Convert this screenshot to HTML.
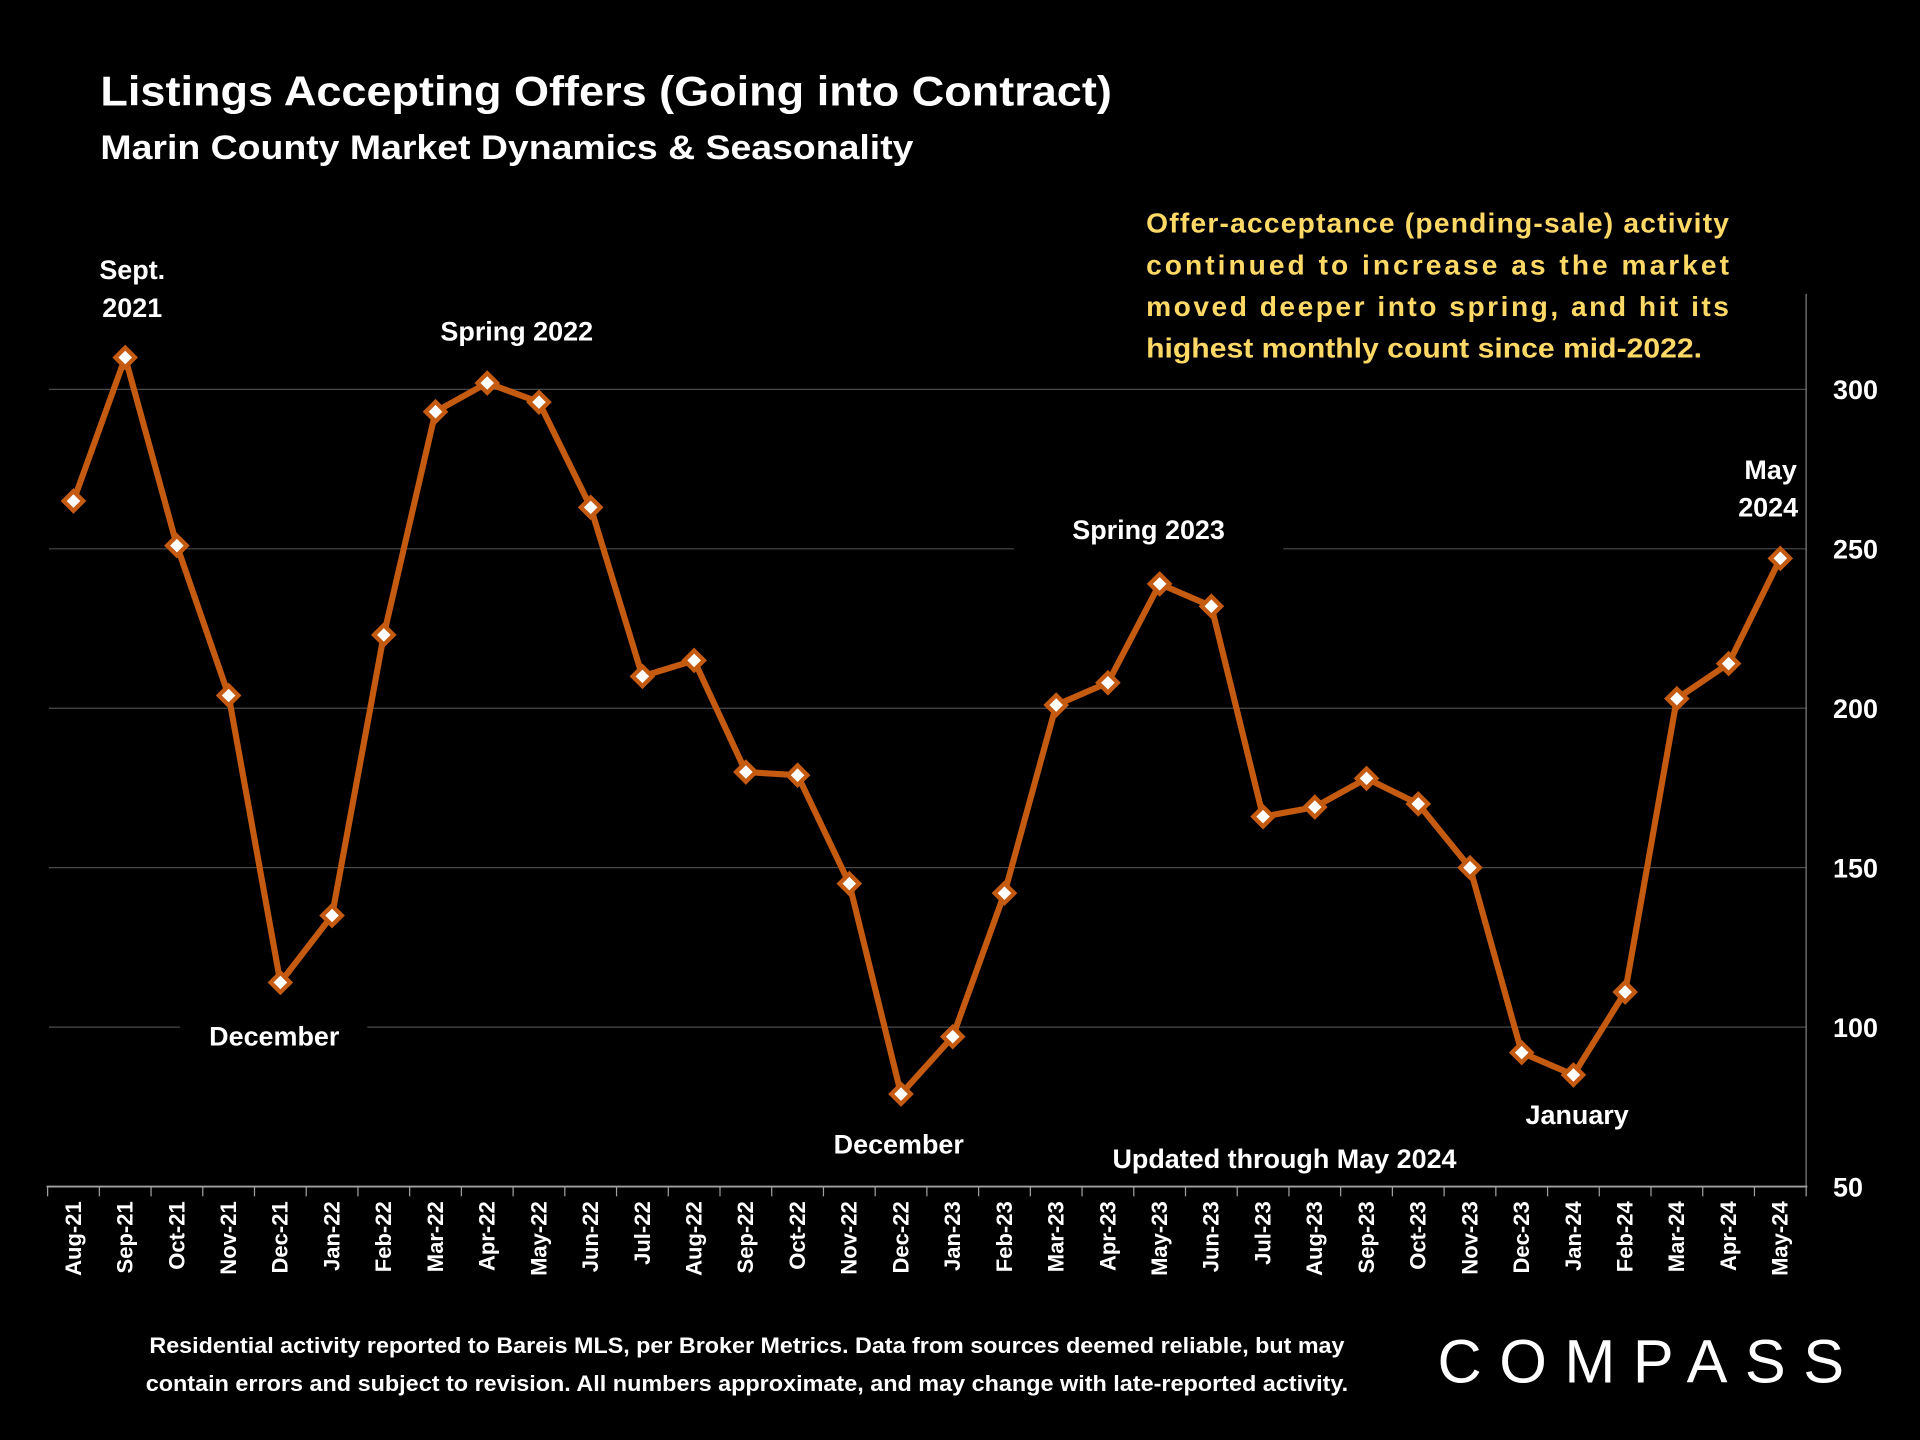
<!DOCTYPE html>
<html><head><meta charset="utf-8"><style>
html,body{margin:0;padding:0;background:#000;}
svg{display:block;}
text{font-family:"Liberation Sans",sans-serif;}
</style></head><body>
<svg id="chart" width="1920" height="1440" viewBox="0 0 1568 1176" xmlns="http://www.w3.org/2000/svg">
<rect width="1568" height="1176" fill="#000"/>
<text x="82" y="86" fill="#fff" font-weight="bold" font-size="34" textLength="826" lengthAdjust="spacingAndGlyphs">Listings Accepting Offers (Going into Contract)</text>
<text x="82" y="130" fill="#fff" font-weight="bold" font-size="28" textLength="664" lengthAdjust="spacingAndGlyphs">Marin County Market Dynamics &amp; Seasonality</text>
<g fill="#ffd966" font-weight="bold" font-size="23">
<text x="936" y="190" textLength="476" lengthAdjust="spacing">Offer-acceptance (pending-sale) activity</text>
<text x="936" y="224" textLength="476" lengthAdjust="spacing">continued to increase as the market</text>
<text x="936" y="258" textLength="476" lengthAdjust="spacing">moved deeper into spring, and hit its</text>
<text x="936" y="292" textLength="454" lengthAdjust="spacingAndGlyphs">highest monthly count since mid-2022.</text>
</g>
<g id="grid"></g>
<g id="axes"></g>
<g id="series"></g>
<g fill="#fff" font-weight="bold" font-size="22" text-anchor="middle">
<text x="108" y="228">Sept.</text><text x="108" y="259">2021</text>
<text x="422" y="278">Spring 2022</text>
<text x="224" y="854">December</text>
<text x="734" y="942">December</text>
<text x="938" y="440">Spring 2023</text>
<text x="1049" y="954">Updated through May 2024</text>
<text x="1288" y="918">January</text>
<text x="1446" y="391">May</text><text x="1444" y="422">2024</text>
</g>
<g fill="#fff" font-weight="bold" font-size="18" text-anchor="middle">
<text x="610" y="1105" textLength="976" lengthAdjust="spacingAndGlyphs">Residential activity reported to Bareis MLS, per Broker Metrics. Data from sources deemed reliable, but may</text>
<text x="610" y="1136" textLength="982" lengthAdjust="spacingAndGlyphs">contain errors and subject to revision. All numbers approximate, and may change with late-reported activity.</text>
</g>
<text x="1174" y="1129" fill="#fff" font-size="50" textLength="332" lengthAdjust="spacing">COMPASS</text>
</svg>
<script>
const categories=["Aug-21","Sep-21","Oct-21","Nov-21","Dec-21","Jan-22","Feb-22","Mar-22","Apr-22","May-22","Jun-22","Jul-22","Aug-22","Sep-22","Oct-22","Nov-22","Dec-22","Jan-23","Feb-23","Mar-23","Apr-23","May-23","Jun-23","Jul-23","Aug-23","Sep-23","Oct-23","Nov-23","Dec-23","Jan-24","Feb-24","Mar-24","Apr-24","May-24"];
const values=[265,310,251,204,114,135,223,293,302,296,263,210,215,180,179,145,79,97,142,201,208,239,232,166,169,178,170,150,92,85,111,203,214,247];
const yTicks=[50,100,150,200,250,300];
const NS="http://www.w3.org/2000/svg";
const x0=60,dx=42.24,yBase=969,yMin=50,pxPer=2.604;
const X=i=>x0+i*dx, Y=v=>yBase-(v-yMin)*pxPer;
function mk(t,a,p){const e=document.createElementNS(NS,t);for(const k in a)e.setAttribute(k,a[k]);p.appendChild(e);return e;}
const grid=document.getElementById('grid'),axes=document.getElementById('axes'),ser=document.getElementById('series');
yTicks.forEach(t=>{
  if(t>yMin){
    const segs = t===250?[[40,828],[1048,1475]] : t===100?[[40,147],[300,1475]] : [[40,1475]];
    segs.forEach(s=>{const l=mk('line',{x1:s[0],x2:s[1],y1:Y(t),y2:Y(t),stroke:'#4a4a4a','stroke-width':1},grid);
    
    });
  }
  const tx=mk('text',{x:1497,y:Y(t)+8,fill:'#fff','font-size':22,'font-weight':'bold'},axes);
  tx.textContent=t;
  
  
});
const ax=mk('line',{x1:1475,x2:1475,y1:240,y2:969,stroke:'#808080','stroke-width':1},axes);


const bx=mk('line',{x1:38,x2:1476,y1:969,y2:969,stroke:'#a0a0a0','stroke-width':1.5},axes);


for(let i=0;i<=categories.length;i++){
  const xx=X(i)-dx/2;
  const tk=mk('line',{x1:xx,x2:xx,y1:969,y2:977,stroke:'#a0a0a0','stroke-width':1},axes);
  
  
}
categories.forEach((c,i)=>{
  const t=mk('text',{x:0,y:0,fill:'#fff','font-size':18,'font-weight':'bold','text-anchor':'end',transform:`translate(${X(i)+6},981) rotate(-90)`},axes);
  t.textContent=c;
  
  
});
const pl=mk('polyline',{points:values.map((v,i)=>X(i)+','+Y(v)).join(' '),fill:'none',stroke:'#c55a11','stroke-width':5,'stroke-linejoin':'round'},ser);


values.forEach((v,i)=>{
  const cx=X(i),cy=Y(v),r=8;
  const d=mk('polygon',{points:`${cx},${cy-r} ${cx+r},${cy} ${cx},${cy+r} ${cx-r},${cy}`,fill:'#fff',stroke:'#c55a11','stroke-width':3.5},ser);
  
  
});
</script>
</body></html>
